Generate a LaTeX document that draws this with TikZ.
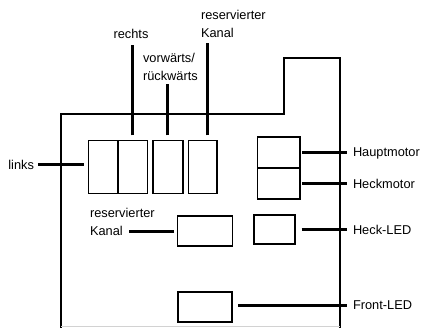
\documentclass[tikz,border=0pt]{standalone}
\usepackage{fontspec}
\setmainfont{Liberation Sans}
\begin{document}
\begin{tikzpicture}[x=1pt,y=-1pt,
  box/.style={draw,line width=1.8pt,inner sep=0pt,outer sep=0pt},
  conn/.style={line width=3pt},
  board/.style={line width=1.8pt},
  lbl/.style={inner sep=0pt,outer sep=0pt,font=\fontsize{12.8}{18}\selectfont},
  mlbl/.style={lbl,align=left}]
\useasboundingbox (0,0) rectangle (422,328);
% board outline
\draw[board] (61,329) -- (61,114) -- (284,114) -- (284,58) -- (340,58) -- (340,329);
\draw[line width=1pt,gray!35] (61,326.5) -- (340,326.5);
% boxes
\node[box,minimum width=29.5pt,minimum height=53pt] (b1) at (103.25,167) {};
\node[box,minimum width=29.5pt,minimum height=53pt] (b2) at (132.75,167) {};
\node[box,minimum width=30pt,minimum height=53pt] (b3) at (168,167) {};
\node[box,minimum width=28.5pt,minimum height=53pt] (b4) at (202.75,167) {};
\node[box,minimum width=42.5pt,minimum height=31pt] (hm) at (278.75,152.5) {};
\node[box,minimum width=42.5pt,minimum height=31pt] (km) at (278.75,183.5) {};
\node[box,minimum width=41pt,minimum height=29pt] (hl) at (274.5,229.5) {};
\node[box,minimum width=55pt,minimum height=30pt] (rk) at (205,231) {};
\node[box,minimum width=54pt,minimum height=30pt] (fl) at (205,307) {};
% labels
\node[lbl,anchor=base] (lrechts) at (131,39) {rechts};
\node[mlbl,anchor=north west] (lvor) at (143,53) {vorwärts/\\rückwärts};
\node[mlbl,anchor=north west] (lres) at (201,10.5) {reservierter\\Kanal};
\node[lbl,anchor=base east] (llinks) at (34,170) {links};
\node[mlbl,anchor=north west] (lres2) at (90,208.5) {reservierter\\Kanal};
\node[lbl,anchor=base west] (lhm) at (353,157) {Hauptmotor};
\node[lbl,anchor=base west] (lkm) at (353,188.5) {Heckmotor};
\node[lbl,anchor=base west] (lhl) at (353,234.5) {Heck-LED};
\node[lbl,anchor=base west] (lfl) at (353,309.5) {Front-LED};
% connectors
\draw[conn] ([yshift=5pt]b2.north) -- ([yshift=-6pt]b2.north |- lrechts.south);
\draw[conn] ([xshift=-1pt,yshift=5pt]b3.north) -- ([xshift=-1pt,yshift=-4pt]b3.north |- lvor.south);
\draw[conn] ([xshift=4.5pt,yshift=5pt]b4.north) -- ([xshift=4.5pt,yshift=-5pt]b4.north |- lres.south);
\draw[conn] ([xshift=-5pt,yshift=2pt]b1.west) -- ([xshift=4pt,yshift=2pt]b1.west -| llinks.east);
\draw[conn] ([xshift=-3.5pt,yshift=-1pt]rk.west) -- ([xshift=-48.5pt,yshift=-1pt]rk.west);
\draw[conn] ([xshift=2pt]hm.east) -- ([xshift=-6pt]hm.east -| lhm.west);
\draw[conn] ([xshift=2pt,yshift=-0.5pt]km.east) -- ([xshift=-6pt,yshift=-0.5pt]km.east -| lkm.west);
\draw[conn] ([xshift=6.5pt,yshift=-0.5pt]hl.east) -- ([xshift=-6pt,yshift=-0.5pt]hl.east -| lhl.west);
\draw[conn] ([xshift=6pt,yshift=2pt]fl.east) -- ([xshift=-6pt,yshift=2pt]fl.east -| lfl.west);
\end{tikzpicture}
\end{document}
